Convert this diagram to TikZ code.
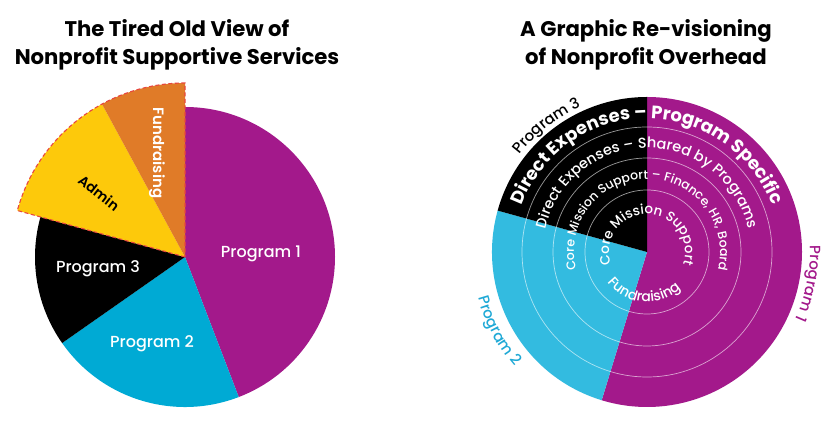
\documentclass[tikz,border=0pt]{standalone}
\usepackage{fontspec}
\setmainfont{Poppins}
\newfontfamily\psemi{Poppins SemiBold}
\newfontfamily\pmed{Poppins Medium}
\usetikzlibrary{decorations.text}
\definecolor{lpurple}{HTML}{A3198B}
\definecolor{lcyan}{HTML}{00AAD4}
\definecolor{rcyan}{HTML}{33BBE0}
\definecolor{tcyan}{HTML}{1FA9D6}
\definecolor{lorange}{HTML}{E07B28}
\definecolor{lyellow}{HTML}{FDC90B}
\definecolor{dashred}{HTML}{E8463F}
\newcommand\ftitle{\bfseries\fontsize{21.2}{28}\selectfont}
\newcommand\flab{\pmed\fontsize{16}{18}\selectfont}
\newcommand\fouter{\bfseries\fontsize{18}{20}\selectfont}
\newcommand\ftwo{\pmed\fontsize{14.5}{16}\selectfont}
\newcommand\fthree{\pmed\fontsize{12.5}{14}\selectfont}
\newcommand\finner{\pmed\fontsize{13.5}{15}\selectfont}
\newcommand\ffund{\pmed\fontsize{14}{16}\selectfont}
\newcommand\fprog{\pmed\fontsize{15}{17}\selectfont}
\begin{document}
\begin{tikzpicture}[x=1pt,y=1pt,
  title/.style={font=\ftitle,align=center,text=black},
  lab/.style={font=\flab,text=white},
  ring/.style={white,opacity=.6,line width=.7pt},
  curved/.style={decorate,decoration={text along path,text align=center,text={#1}}}]
\useasboundingbox (0,0) rectangle (838,428);
\fill[white] (0,0) rectangle (838,428);
% titles
\node[title] (t1) at (177,383) {The Tired Old View of\\Nonprofit Supportive Services};
\node[title] (t2) at (646,383) {A Graphic Re-visioning\\of Nonprofit Overhead};
% left pie
\begin{scope}[shift={(185,171)}]
\fill[lpurple] (0,0) -- (90:150) arc[start angle=90,end angle=-69,radius=150] -- cycle;
\fill[lcyan] (0,0) -- (-69:150) arc[start angle=-69,end angle=-145,radius=150] -- cycle;
\fill[black] (0,0) -- (-145:150) arc[start angle=-145,end angle=-195.5,radius=150] -- cycle;
\fill[lyellow] (0,0) -- (164.5:174) arc[start angle=164.5,end angle=118.5,radius=174] -- cycle;
\fill[lorange] (0,0) -- (118.5:174) arc[start angle=118.5,end angle=90,radius=174] -- cycle;
\draw[dashred,line width=1.1pt,dash pattern=on 4pt off 2.5pt] (0,0) -- (164.5:174) arc[start angle=164.5,end angle=90,radius=174] -- cycle;
\end{scope}
\node[lab] (p1) at (261,174) {Program 1};
\node[lab] (p2) at (152,84) {Program 2};
\node[lab] (p3) at (98,159) {Program 3};
\node[font=\psemi\fontsize{14}{16}\selectfont,text=black,rotate=-38] (adm) at (99,235) {Admin};
\node[font=\psemi\fontsize{15}{17}\selectfont,text=white,rotate=-90] (fun) at (157,275) {Fundraising};
% right chart
\begin{scope}[shift={(647,176)}]
\fill[lpurple] (0,0) -- (90:155) arc[start angle=90,end angle=-107,radius=155] -- cycle;
\fill[rcyan] (0,0) -- (-107:155) arc[start angle=-107,end angle=-195.5,radius=155] -- cycle;
\fill[black] (0,0) -- (164.5:155) arc[start angle=164.5,end angle=90,radius=155] -- cycle;
\draw[ring] (0,0) circle[radius=62];
\draw[ring] (0,0) circle[radius=94];
\draw[ring] (0,0) circle[radius=125];
\path[decoration={text color=white},curved={|\fouter|Direct Expenses – Program Specific}] (185:133.5) arc[start angle=185,end angle=-5,radius=133.5];
\path[decoration={text color=white},curved={|\ftwo|Direct Expenses – Shared by Programs}] (205:104) arc[start angle=205,end angle=-25,radius=104];
\path[decoration={text color=white},curved={|\fthree|Core Mission Support – Finance, HR, Board}] (240:73) arc[start angle=240,end angle=-60,radius=73];
\path[decoration={text color=white},curved={|\finner|Core Mission Support}] (250:38) arc[start angle=250,end angle=-70,radius=38];
\path[decoration={text color=white},curved={|\ffund|Fundraising}] (175:50) arc[start angle=175,end angle=355,radius=50];
\path[decoration={text color=black},curved={|\fprog|Program 3}] (168.5:160) arc[start angle=168.5,end angle=88.5,radius=160];
\path[decoration={text color=tcyan},curved={|\fprog|Program 2}] (168:175) arc[start angle=168,end angle=248,radius=175];
\path[decoration={text color=lpurple},curved={|\fprog|Program 1}] (29:163) arc[start angle=29,end angle=-51,radius=163];
\end{scope}
\end{tikzpicture}
\end{document}
